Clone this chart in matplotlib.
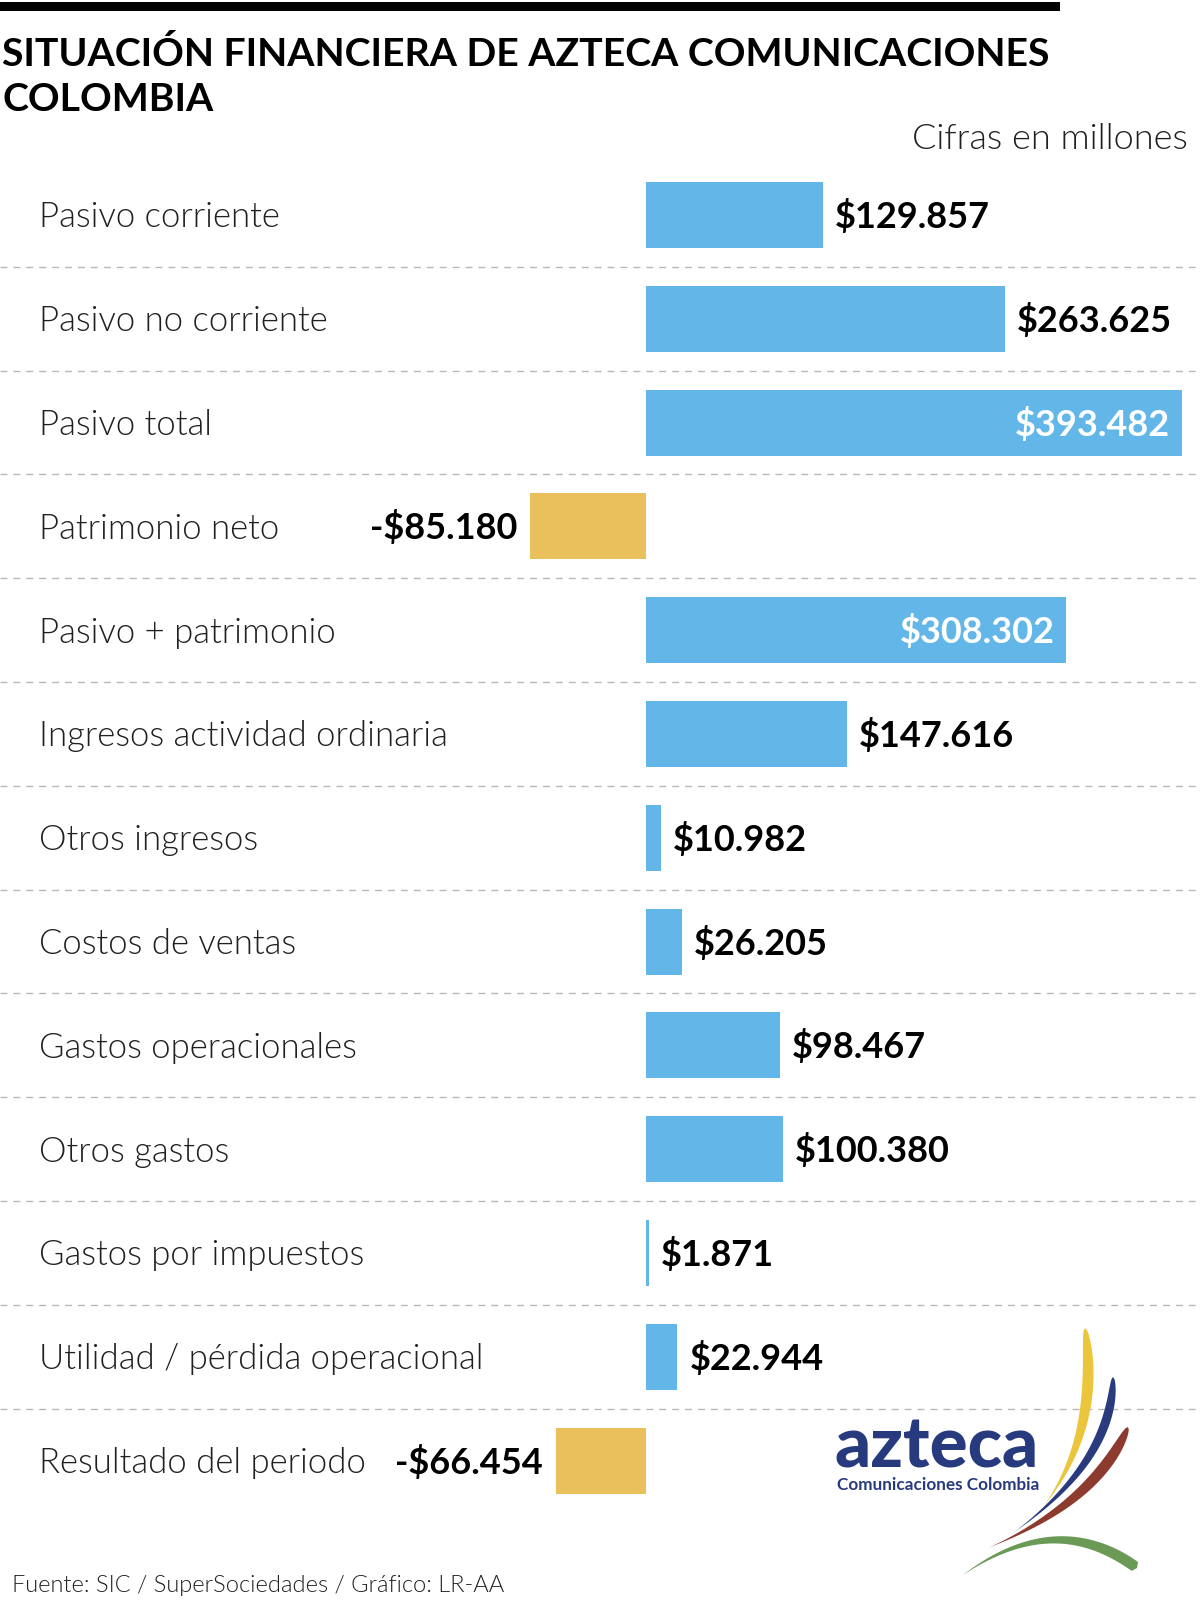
import numpy as np
import matplotlib
matplotlib.use("Agg")
import matplotlib.pyplot as plt
import matplotlib.transforms as mtransforms
from matplotlib.patches import Rectangle, Polygon

plt.rcParams['font.family'] = ['Lato', 'DejaVu Sans']

# datos (millones de pesos)
conceptos = ["Pasivo corriente", "Pasivo no corriente", "Pasivo total", "Patrimonio neto",
             "Pasivo + patrimonio", "Ingresos actividad ordinaria", "Otros ingresos",
             "Costos de ventas", "Gastos operacionales", "Otros gastos",
             "Gastos por impuestos", "Utilidad / pérdida operacional", "Resultado del periodo"]
valores = [129857, 263625, 393482, -85180, 308302, 147616, 10982, 26205,
           98467, 100380, 1871, 22944, -66454]
etiquetas = ["$129.857", "$263.625", "$393.482", "-$85.180", "$308.302", "$147.616",
             "$10.982", "$26.205", "$98.467", "$100.380", "$1.871", "$22.944", "-$66.454"]

titulo = ["SITUACIÓN FINANCIERA DE AZTECA COMUNICACIONES", "COLOMBIA"]
subtitulo = "Cifras en millones"
fuente = "Fuente: SIC / SuperSociedades / Gráfico: LR-AA"

AZUL = "#63b7e8"
AMARILLO = "#e9c05b"
TEXTO = "#231f20"
LIGERO = 300

W, H = 1200, 1607
fig = plt.figure(figsize=(W / 100, H / 100), dpi=100)

# capa de fondo en pixeles
bg = fig.add_axes([0, 0, 1, 1])
bg.set_xlim(0, W)
bg.set_ylim(H, 0)
bg.axis("off")

bg.add_patch(Rectangle((0, 2), 1060, 9, color="black", lw=0))
bg.text(2, 66, titulo[0], fontsize=28.3, weight="bold", color="black", va="baseline")
bg.text(2, 111, titulo[1], fontsize=28.3, weight="bold", color="black", va="baseline")
bg.text(1188, 149, subtitulo, fontsize=26, weight=LIGERO, color=TEXTO, ha="right", va="baseline")
bg.text(12, 1592, fuente, fontsize=17, weight=LIGERO, color=TEXTO, va="baseline")

# grafico de barras
n = len(valores)
escala = 0.001361          # px por millon
cero_px = 646
paso = 103.8
y0 = 215 - paso / 2
y1 = y0 + paso * n
ax = fig.add_axes([0, 1 - y1 / H, 1, (y1 - y0) / H])
ax.set_xlim(-cero_px / escala, (W - cero_px) / escala)
ax.set_ylim(n - 0.5, -0.5)
ax.axis("off")

pos = np.arange(n)
colores = [AZUL if v >= 0 else AMARILLO for v in valores]
ax.barh(pos, valores, height=66 / paso, color=colores, lw=0, zorder=2)

for i in range(n - 1):
    ax.axhline(i + 0.5, color="#b8b8b8", lw=1, dashes=(5, 4.3), zorder=1)

trans = mtransforms.blended_transform_factory(fig.transFigure, ax.transData)
fs_lab = 25
fs_val = 26
cap_lab = 0.717 * fs_lab
cap_val = 0.717 * fs_val
for i, (c, v, e) in enumerate(zip(conceptos, valores, etiquetas)):
    ax.annotate(c, (39 / W, i), xycoords=trans, xytext=(0, -cap_lab / 2),
                textcoords="offset points", fontsize=fs_lab, weight=LIGERO,
                color=TEXTO, va="baseline", ha="left")
    if v > 300000:
        ax.annotate(e, (v, i), xytext=(-8, -cap_val / 2), textcoords="offset points",
                    fontsize=fs_val, weight="bold", color="white", ha="right", va="baseline")
    elif v >= 0:
        ax.annotate(e, (v, i), xytext=(8.8, -cap_val / 2), textcoords="offset points",
                    fontsize=fs_val, weight="bold", color="black", ha="left", va="baseline")
    else:
        ax.annotate(e, (v, i), xytext=(-9, -cap_val / 2), textcoords="offset points",
                    fontsize=fs_val, weight="bold", color="black", ha="right", va="baseline")

# logo azteca
logo = fig.add_axes([0, 0, 1, 1], zorder=5)
logo.set_xlim(0, W)
logo.set_ylim(H, 0)
logo.axis("off")
NAVY = "#283a7e"
logo.text(834, 1468, "azteca", fontsize=51, weight="black", color=NAVY, va="baseline")
logo.text(837, 1490, "Comunicaciones Colombia", fontsize=12.3, weight="bold", color=NAVY, va="baseline")


def trazo(p0, m, p2, wmax, a, b, color):
    p0, m, p2 = np.array(p0, float), np.array(m, float), np.array(p2, float)
    c = 2 * m - (p0 + p2) / 2
    t = np.linspace(0, 1, 80)
    pts = ((1 - t) ** 2)[:, None] * p0 + (2 * t * (1 - t))[:, None] * c + (t ** 2)[:, None] * p2
    d = 2 * (1 - t)[:, None] * (c - p0) + 2 * t[:, None] * (p2 - c)
    nrm = np.stack([-d[:, 1], d[:, 0]], axis=1)
    nrm /= np.linalg.norm(nrm, axis=1)[:, None]
    w = t ** a * (1 - t) ** b
    w = wmax * w / w.max()
    lado1 = pts + nrm * w[:, None] / 2
    lado2 = pts - nrm * w[:, None] / 2
    logo.add_patch(Polygon(np.vstack([lado1, lado2[::-1]]), closed=True, color=color, lw=0))


trazo((1085, 1328), (1082, 1425), (1043, 1507), 11, 0.5, 1.3, "#ebc63c")
trazo((1113, 1377), (1088, 1458), (1013, 1533), 9, 0.5, 1.3, "#293b7d")
trazo((1128, 1427), (1077, 1495), (988, 1548), 11, 0.5, 1.3, "#8e3b2f")
trazo((963, 1575), (1053, 1540), (1137, 1568), 11, 0.9, 0.05, "#6b9a57")

fig.savefig("out.png", dpi=100)
